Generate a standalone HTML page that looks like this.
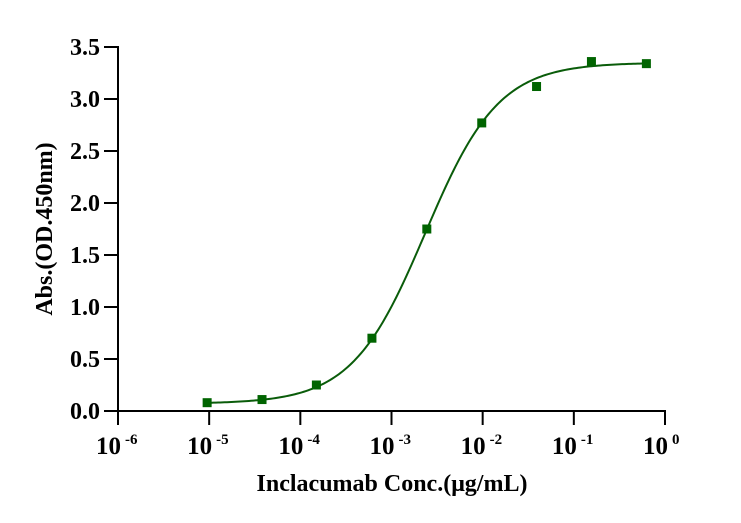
<!DOCTYPE html>
<html><head><meta charset="utf-8">
<style>
html,body{margin:0;padding:0;background:#fff;}
svg{display:block;font-family:"Liberation Serif",serif;font-weight:bold;}
</style></head>
<body>
<svg id="chart" width="741" height="523" viewBox="0 0 741 523">
<g id="axes"></g>
<g id="curve-layer"></g>
<g id="points-layer"></g>
<text transform="translate(52,229) rotate(-90)" text-anchor="middle" font-size="24">Abs.(OD.450nm)</text>
<text x="392" y="491" text-anchor="middle" font-size="24">Inclacumab Conc.(μg/mL)</text>
</svg>
<script>
const concentrations=[9.5e-6,3.8e-5,1.5e-4,6.1e-4,2.44e-3,9.77e-3,0.039,0.156,0.625];
const absorbance=[0.08,0.11,0.25,0.70,1.75,2.77,3.12,3.36,3.34];
const fitParams=[0.07,3.35,-2.63,1.08]; // bottom, top, logEC50, hill
const yTicks=["0.0","0.5","1.0","1.5","2.0","2.5","3.0","3.5"];
const xTickExps=[-6,-5,-4,-3,-2,-1,0];

const NS="http://www.w3.org/2000/svg";
const X0=118,X1=665,Y0=411,Y1=47;
const xMin=-6,xMax=0,yMin=0,yMax=3.5;
function xs(logv){return X0+(logv-xMin)/(xMax-xMin)*(X1-X0);}
function ys(v){return Y0-(v-yMin)/(yMax-yMin)*(Y0-Y1);}
function mk(tag,attrs,parent){const e=document.createElementNS(NS,tag);for(const k in attrs)e.setAttribute(k,attrs[k]);parent.appendChild(e);return e;}

const axes=document.getElementById('axes');
const yl=mk('line',{x1:X0,y1:Y1-1,x2:X0,y2:Y0+1,stroke:'#000','stroke-width':2},axes);


const xl=mk('line',{x1:X0-1,y1:Y0,x2:X1+1,y2:Y0,stroke:'#000','stroke-width':2},axes);



yTicks.forEach(function(t){
  const y=ys(parseFloat(t));
  const tk=mk('line',{x1:X0-14,y1:y,x2:X0,y2:y,stroke:'#000','stroke-width':2},axes);
  
  
  const tx=mk('text',{x:100,y:y+8,'text-anchor':'end','font-size':24},axes);
  tx.textContent=t;
  
  
});
xTickExps.forEach(function(e){
  const x=xs(e);
  const tk=mk('line',{x1:x,y1:Y0,x2:x,y2:Y0+14,stroke:'#000','stroke-width':2},axes);
  
  
  const tx=mk('text',{x:x-22,y:454,'font-size':25},axes);
  
  
  const base=document.createElementNS(NS,'tspan');base.textContent='10';tx.appendChild(base);
  const sup=document.createElementNS(NS,'tspan');sup.setAttribute('font-size','15');sup.setAttribute('dy','-10');sup.setAttribute('dx','4');
  sup.textContent=String(e);tx.appendChild(sup);
});

function fit(logx){const b=fitParams[0],t=fitParams[1],ec=fitParams[2],h=fitParams[3];return b+(t-b)/(1+Math.pow(10,(ec-logx)*h));}
const l0=Math.log10(concentrations[0]),l1=Math.log10(concentrations[concentrations.length-1]);
let d='';
for(let i=0;i<=200;i++){const lx=l0+(l1-l0)*i/200;d+=(i?'L':'M')+xs(lx).toFixed(2)+','+ys(fit(lx)).toFixed(2);}
const curve=mk('path',{d:d,fill:'none',stroke:'#0a5c0a','stroke-width':2},document.getElementById('curve-layer'));



const pts=document.getElementById('points-layer');
concentrations.forEach(function(c,i){
  const x=xs(Math.log10(c)),y=ys(absorbance[i]);
  const r=mk('rect',{x:x-4.5,y:y-4.5,width:9,height:9,fill:'#006400'},pts);
  
  
});
</script>
</body></html>
